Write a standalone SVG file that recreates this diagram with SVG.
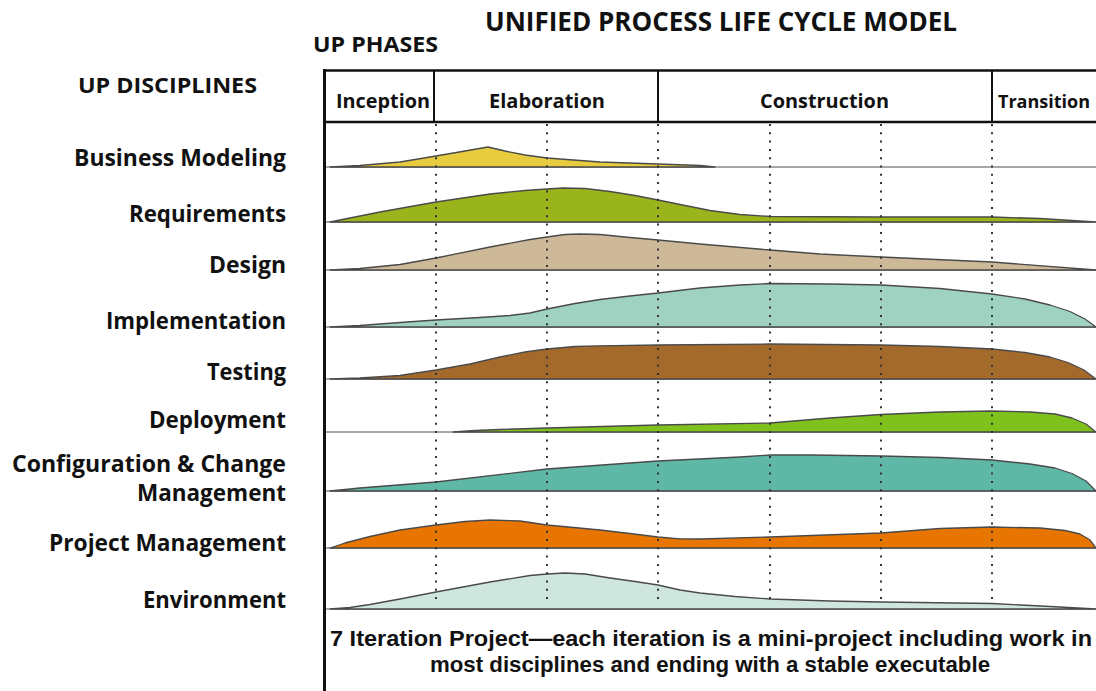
<svg xmlns="http://www.w3.org/2000/svg" width="1096" height="691" viewBox="0 0 1096 691">
<style>
text{font-family:"Open Sans","Liberation Sans",sans-serif;font-weight:700;fill:#111}
.lbl{font-size:23.5px;text-anchor:end}
.hdr{font-size:20px;text-anchor:middle}
.ttl{font-size:26px}
.bot{font-family:"Liberation Sans",Arial,sans-serif;font-size:22.5px;text-anchor:middle}
.curve{stroke:#4a4a4a;stroke-width:1.3;stroke-linejoin:round}
.base{stroke:#8a8a8a;stroke-width:1.6;fill:none}
.dot{stroke:#333;stroke-width:2;stroke-dasharray:2 6.3;fill:none}
.frame{stroke:#111;fill:none}
</style>
<rect width="1096" height="691" fill="#ffffff"/>

<g id="titles">
<text class="ttl" x="485" y="31" textLength="472" lengthAdjust="spacingAndGlyphs">UNIFIED PROCESS LIFE CYCLE MODEL</text>
<text class="ttl" x="313" y="52" style="font-size:22px" textLength="125" lengthAdjust="spacingAndGlyphs">UP PHASES</text>
<text class="ttl" x="78" y="93" style="font-size:22px" textLength="179" lengthAdjust="spacingAndGlyphs">UP DISCIPLINES</text>
</g>

<g id="phases">
<text class="hdr" x="383" y="108" textLength="94" lengthAdjust="spacingAndGlyphs">Inception</text>
<text class="hdr" x="547" y="108" textLength="116" lengthAdjust="spacingAndGlyphs">Elaboration</text>
<text class="hdr" x="824.5" y="108" textLength="129" lengthAdjust="spacingAndGlyphs">Construction</text>
<text x="998" y="108" style="font-size:18px;text-anchor:start" textLength="92" lengthAdjust="spacingAndGlyphs">Transition</text>
</g>

<g id="labels">
<text class="lbl" x="286" y="166" textLength="212" lengthAdjust="spacingAndGlyphs">Business Modeling</text>
<text class="lbl" x="286" y="222" textLength="157" lengthAdjust="spacingAndGlyphs">Requirements</text>
<text class="lbl" x="286" y="273" textLength="77" lengthAdjust="spacingAndGlyphs">Design</text>
<text class="lbl" x="286" y="329" textLength="180" lengthAdjust="spacingAndGlyphs">Implementation</text>
<text class="lbl" x="286" y="380" textLength="79" lengthAdjust="spacingAndGlyphs">Testing</text>
<text class="lbl" x="286" y="428" textLength="137" lengthAdjust="spacingAndGlyphs">Deployment</text>
<text class="lbl" x="286" y="472" textLength="274" lengthAdjust="spacingAndGlyphs">Configuration &amp; Change</text>
<text class="lbl" x="286" y="501" textLength="149" lengthAdjust="spacingAndGlyphs">Management</text>
<text class="lbl" x="286" y="551" textLength="237" lengthAdjust="spacingAndGlyphs">Project Management</text>
<text class="lbl" x="286" y="608" textLength="143" lengthAdjust="spacingAndGlyphs">Environment</text>
</g>

<g id="baselines">
<line class="base" x1="326" y1="167" x2="1096" y2="167"/>
<line class="base" x1="326" y1="222" x2="1096" y2="222"/>
<line class="base" x1="326" y1="270" x2="1096" y2="270"/>
<line class="base" x1="326" y1="327" x2="1096" y2="327"/>
<line class="base" x1="326" y1="379" x2="1096" y2="379"/>
<line class="base" x1="326" y1="432" x2="1096" y2="432"/>
<line class="base" x1="326" y1="491" x2="1096" y2="491"/>
<line class="base" x1="326" y1="548" x2="1096" y2="548"/>
<line class="base" x1="326" y1="609" x2="1096" y2="609"/>
</g>

<g id="business-modeling">
<polygon class="curve" fill="#E6CC3E" points="330,167 360,165.5 400,162 436,156 465,151 488,147 505,151 525,155 547,158 600,162 658,164 700,165.5 715,167"/>
</g>
<g id="requirements">
<polygon class="curve" fill="#9AB51B" points="330,222 380,212 436,202 490,194 525,190.5 547,189 563,188 585,188.5 610,191.5 635,195.5 658,200 685,205.5 710,210.5 740,214.5 770,216.5 881,217 992,217 1040,218.5 1096,222"/>
</g>
<g id="design">
<polygon class="curve" fill="#CDB898" points="330,270 360,268.5 400,264.5 436,258 490,247 530,239.5 547,237 565,234.5 580,234 600,234.5 630,237.5 658,240 700,244 770,250 820,254 881,257 992,262 1096,270"/>
</g>
<g id="implementation">
<polygon class="curve" fill="#9FD2C0" points="330,327 360,325.5 400,322.5 436,320 480,317.5 510,315.5 530,313 547,309 575,303.5 600,299.5 630,296 658,293 700,288 740,285 770,283.5 830,284 881,285 940,288.5 992,294 1025,299 1050,305 1070,311.5 1085,319 1096,327"/>
</g>
<g id="testing">
<polygon class="curve" fill="#A46A2C" points="330,379 360,378 400,375.5 436,370 470,364 500,357 525,352 547,349 575,346.5 600,345.8 658,345 770,344 881,345 940,346.5 992,349 1025,352.5 1050,357 1068,362.5 1084,370 1096,379"/>
</g>
<g id="deployment">
<polygon class="curve" fill="#7FC11D" points="453,432 475,430.5 500,429.5 547,428 658,425 770,423 830,418 881,414.5 940,412 992,411 1030,412 1055,414 1072,418 1086,424 1096,432"/>
</g>
<g id="configuration-change-management">
<polygon class="curve" fill="#5FB8A5" points="330,491 345,489.5 360,488 436,482 547,469 658,461 740,457 770,455 813,455 881,456 940,457.5 992,460 1030,464 1055,468 1072,473.5 1086,481 1096,491"/>
</g>
<g id="project-management">
<polygon class="curve" fill="#E77500" points="330,548 345,543 370,536.5 400,530 436,525 465,521.5 490,520 520,521 547,525 600,530 630,533.5 658,537 680,538.8 700,539 770,537 881,533 940,528.5 992,527 1040,528 1065,530.5 1080,534 1090,540 1096,548"/>
</g>
<g id="environment">
<polygon class="curve" fill="#CFE6DF" points="330,609 350,607.5 370,604.5 400,599 436,592 490,582 530,575.5 547,574 565,573 585,574 610,578 635,581.5 658,585 680,590 700,593 735,596.5 770,599 830,601 881,602 992,603.5 1050,606.5 1096,609"/>
</g>

<g id="iterations">
<line class="dot" x1="436" y1="124" x2="436" y2="602"/>
<line class="dot" x1="547" y1="124" x2="547" y2="602"/>
<line class="dot" x1="658" y1="124" x2="658" y2="602"/>
<line class="dot" x1="770" y1="124" x2="770" y2="602"/>
<line class="dot" x1="881" y1="124" x2="881" y2="602"/>
<line class="dot" x1="992" y1="124" x2="992" y2="602"/>
</g>

<g id="frame">
<line class="frame" x1="324.5" y1="69" x2="324.5" y2="691" stroke-width="3"/>
<line class="frame" x1="323" y1="70.5" x2="1096" y2="70.5" stroke-width="2.5"/>
<line class="frame" x1="323" y1="122" x2="1096" y2="122" stroke-width="2.5"/>
<line class="frame" x1="434" y1="70" x2="434" y2="122" stroke-width="2"/>
<line class="frame" x1="658" y1="70" x2="658" y2="122" stroke-width="2"/>
<line class="frame" x1="992" y1="70" x2="992" y2="122" stroke-width="2"/>
</g>

<g id="note">
<text class="bot" x="711" y="646" textLength="762" lengthAdjust="spacingAndGlyphs">7 Iteration Project—each iteration is a mini-project including work in</text>
<text class="bot" x="710" y="672" textLength="560" lengthAdjust="spacingAndGlyphs">most disciplines and ending with a stable executable</text>
</g>
</svg>
